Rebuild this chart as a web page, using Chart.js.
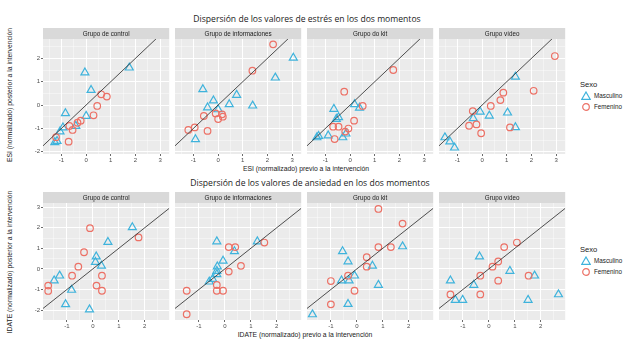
<!DOCTYPE html>
<html>
<head>
<meta charset="utf-8">
<script src="https://cdn.jsdelivr.net/npm/chart.js@4.4.1/dist/chart.umd.min.js"></script>
<style>
  body { margin: 0; background: #fff; width: 640px; height: 343px; position: relative; overflow: hidden; font-family: "Liberation Sans", Arial, sans-serif; }
  canvas { position: absolute; }
  .t { position: absolute; white-space: nowrap; transform: translate(-50%, -50%); color: #1a1a1a; }
  .main { font-family: "Open Sans", sans-serif; font-size: 8.6px; color: #222; }
  .axt { font-size: 6.8px; }
  .rot { transform: translate(-50%, -50%) rotate(-90deg); }
  .leg { position: absolute; white-space: nowrap; font-size: 6.3px; color: #1a1a1a; }
  .legt { position: absolute; font-size: 7.6px; color: #1a1a1a; }
  svg { position: absolute; }
</style>
</head>
<body>

<div class="t main" style="left:307px;top:19px">Dispersión de los valores de estrés en los dos momentos</div>
<div class="t main" style="left:310px;top:183px">Dispersión de los valores de ansiedad en los dos momentos</div>

<div class="t axt" style="left:306px;top:168px">ESI (normalizado) previo a la intervención</div>
<div class="t axt" style="left:305px;top:334px">IDATE (normalizado) previo a la intervención</div>
<div class="t axt rot" style="left:9px;top:95px">ESI (normalizado) posterior a la intervención</div>
<div class="t axt rot" style="left:9px;top:262px">IDATE (normalizado) posterior a la intervención</div>

<div id="legends"></div>

<script>
const groups = ["Grupo de control", "Grupo de informaciones", "Grupo do kit", "Grupo vídeo"];
const sexes = ["Masculino", "Femenino"];

const esiTicksX = [-1, 0, 1, 2, 3];
const esiTicksY = [-2, -1, 0, 1, 2];
const idateTicksX = [-1, 0, 1, 2];
const idateTicksY = [-2, -1, 0, 1, 2, 3];

// ESI: pre / post per group (Masculino)
const esiPreMasc = [
  [1.75, -0.05, 0.2, -0.84, 0, -0.42, -0.94, -1.06, -1.18, -1.27],
  [3.05, 2.32, -0.62, 0.75, -0.19, 0.45, 1.4, -0.43, 0, -0.92],
  [-0.66, 0.18, 0.38, -0.47, -0.56, -0.17, -0.3, -0.89, -1.28, -1.35],
  [1.35, -0.08, 0.29, 1.03, 1.35, -0.36, -1.51, -1.31, -1.12]
];
const esiPostMasc = [
  [1.6, 1.39, 0.64, -0.36, -0.47, -0.9, -0.97, -1.14, -1.55, -1.6],
  [2.02, 1.17, 0.67, 0.43, 0.19, 0.03, -0.03, -0.11, -0.19, -1.47],
  [-0.17, 0.03, -0.12, -0.53, -0.6, -1.23, -1.39, -1.31, -1.33, -1.39],
  [1.21, -0.29, -0.46, -0.33, -0.96, -0.57, -1.39, -1.57, -1.83]
];
// ESI (Femenino)
const esiPreFem = [
  [0.61, 0.84, 0.45, 0.3, -0.22, -0.35, -0.68, -0.55, -0.71, -1.22],
  [2.23, 1.39, -0.58, -0.1, 0.16, 0.19, 0, -0.95, -1.21, -0.43],
  [1.75, -0.24, 0.51, 0.16, -0.69, -0.47, -0.07, -0.2, -0.63],
  [2.95, 2.09, 0.86, 0.74, 0.35, -0.38, -0.23, -0.53, -0.04, 1.13]
];
const esiPostFem = [
  [0.46, 0.36, -0.04, -0.44, -0.67, -0.76, -0.9, -1.07, -1.57, -1.38],
  [2.6, 1.47, -0.47, -0.36, -0.4, -0.5, -0.6, -0.96, -1.07, -1.11],
  [1.5, 0.57, -0.04, -0.67, -0.93, -0.93, -1.01, -1.14, -1.46],
  [2.1, 0.61, 0.53, 0.21, -0.04, -0.26, -0.83, -0.89, -1.21, -0.96]
];

// IDATE (Masculino)
const idatePreMasc = [
  [1.52, 0.58, 0.13, 0.1, 0.33, -1.28, -1.49, -0.82, -1.05, -0.13],
  [-0.31, 1.25, 0.37, -0.07, -0.29, -0.31, -0.31, -0.47, -0.6],
  [1.76, -0.55, -0.34, 0.6, -0.09, -0.3, -0.59, 0.83, -0.34, -1.71],
  [-0.36, 0.81, 1.76, -1.48, -0.58, -1.29, -1.01, 1.51, 2.68]
];
const idatePostMasc = [
  [2.02, 1.3, 0.6, 0.33, 0.15, -0.33, -0.57, -1.02, -1.72, -1.97],
  [1.33, 1.33, 0.85, 0.39, 0.11, -0.1, -0.26, -0.49, -0.62],
  [1.09, 0.85, 0.36, 0.15, -0.33, -0.57, -0.57, -0.78, -1.71, -2.21],
  [0.6, -0.1, -0.33, -0.57, -0.78, -1.51, -1.51, -1.51, -1.24]
];
// IDATE (Femenino)
const idatePreFem = [
  [-0.11, 1.76, -0.34, -0.56, -0.8, 0.35, 0.14, 0.35, -1.72, -1.72],
  [0.15, 0.4, 1.52, 0.62, 0.15, -0.31, -0.31, -0.07, -1.47, -1.47],
  [0.83, 1.76, 0.83, 1.31, 0.38, 0.38, -0.34, -1.0, -0.09, -1.0],
  [1.08, 0.59, 0.14, 0.36, -0.33, 1.53, 0.36, -1.48, -0.33]
];
const idatePostFem = [
  [1.98, 1.53, 0.81, 0.11, -0.33, -0.33, -0.81, -1.06, -0.81, -1.07],
  [1.06, 1.06, 1.28, 0.15, -0.13, -0.78, -1.06, -1.06, -1.06, -2.2],
  [2.91, 2.2, 1.06, 1.06, 0.57, 0.11, -0.33, -0.59, -1.06, -1.72],
  [1.28, 1.06, 0.11, 0.36, -0.33, -0.33, -0.57, -1.24, -1.24]
];

const BLUE = "#3fb3dc";
const RED = "#ec7166";

const cols = [43, 175, 307, 439];
const PW = 129, STRIP = 11, YAX = 22, XAX = 14, RPAD = 3;

const rows = [
  { top: 28, plotH: 115, xMin: -1.75, xMax: 3.37, yMin: -2.1, yMax: 2.83,
    preM: esiPreMasc, postM: esiPostMasc, preF: esiPreFem, postF: esiPostFem,
    ticksX: esiTicksX, ticksY: esiTicksY, legendTop: 85 },
  { top: 192, plotH: 117, xMin: -1.92, xMax: 2.94, yMin: -2.48, yMax: 3.2,
    preM: idatePreMasc, postM: idatePostMasc, preF: idatePreFem, postF: idatePostFem,
    ticksX: idateTicksX, ticksY: idateTicksY, legendTop: 250 }
];

const isWhole = v => Math.abs(v - Math.round(v)) < 1e-6;
const isHalf = v => Math.abs(v * 2 - Math.round(v * 2)) < 1e-6;
const pts = (xs, ys) => xs.map((x, i) => ({ x: x, y: ys[i] }));

const panelPlugin = {
  id: "panel",
  beforeDraw(chart, args, opts) {
    const { ctx, chartArea: a } = chart;
    ctx.save();
    ctx.fillStyle = "#ebebeb";
    ctx.fillRect(a.left, a.top, a.right - a.left, a.bottom - a.top);
    ctx.fillStyle = "#d9d9d9";
    ctx.fillRect(a.left, a.top - STRIP, a.right - a.left, STRIP);
    ctx.fillStyle = "#1a1a1a";
    ctx.font = '6.3px "Liberation Sans"';
    ctx.textAlign = "center";
    ctx.textBaseline = "middle";
    ctx.fillText(opts.label, (a.left + a.right) / 2, a.top - STRIP / 2 + 0.5);
    ctx.restore();
  }
};

function axis(min, max, labels, showLabels) {
  return {
    type: "linear",
    min: min,
    max: max,
    border: { display: false },
    afterBuildTicks: s => { s.ticks = s.ticks.filter(t => isHalf(t.value)); },
    grid: {
      color: c => (c.tick && isWhole(c.tick.value) ? "#ffffff" : "rgba(255,255,255,0.8)"),
      lineWidth: c => (c.tick && isWhole(c.tick.value) ? 1 : 0.5),
      tickColor: c => (c.tick && isWhole(c.tick.value) ? "#444" : "rgba(0,0,0,0)"),
      tickLength: 2,
      tickWidth: 0.8,
      drawTicks: showLabels
    },
    ticks: {
      display: showLabels,
      stepSize: 0.5,
      includeBounds: false,
      maxTicksLimit: 50,
      autoSkip: false,
      maxRotation: 0,
      padding: 1,
      color: "#4d4d4d",
      font: { size: 6, family: "Liberation Sans" },
      callback: v => (isWhole(v) && labels.includes(Math.round(v)) ? String(Math.round(v)) : "")
    }
  };
}

rows.forEach(r => {
  groups.forEach((g, gi) => {
    const cv = document.createElement("canvas");
    const W = YAX + PW + RPAD, H = STRIP + r.plotH + XAX;
    cv.width = W; cv.height = H;
    cv.style.left = (cols[gi] - YAX) + "px";
    cv.style.top = r.top + "px";
    cv.style.width = W + "px"; cv.style.height = H + "px";
    document.body.appendChild(cv);

    const xs = axis(r.xMin, r.xMax, r.ticksX, true);
    xs.afterFit = s => { s.height = XAX; };
    const ys = axis(r.yMin, r.yMax, r.ticksY, gi === 0);
    ys.afterFit = s => { s.width = YAX; };

    new Chart(cv.getContext("2d"), {
      type: "scatter",
      data: {
        datasets: [
          { type: "line", data: [{ x: r.xMin, y: r.xMin }, { x: r.xMax, y: r.xMax }],
            borderColor: "rgba(50,50,50,0.85)", borderWidth: 1, pointRadius: 0, fill: false, order: 0 },
          { label: sexes[1], data: pts(r.preF[gi], r.postF[gi]), pointStyle: "circle",
            pointRadius: 3.3, borderWidth: 1.2, borderColor: RED, backgroundColor: "rgba(0,0,0,0)", order: 1 },
          { label: sexes[0], data: pts(r.preM[gi], r.postM[gi]), pointStyle: "triangle",
            pointRadius: 4.6, borderWidth: 1.2, borderColor: BLUE, backgroundColor: "rgba(0,0,0,0)", order: 2 }
        ]
      },
      options: {
        responsive: false,
        animation: false,
        devicePixelRatio: 1,
        layout: { padding: { top: STRIP, right: RPAD, left: 0, bottom: 0 } },
        plugins: { legend: { display: false }, tooltip: { enabled: false }, panel: { label: g } },
        scales: { x: xs, y: ys }
      },
      plugins: [panelPlugin]
    });
  });

  // legend
  const lg = document.getElementById("legends");
  const t = r.legendTop;
  lg.insertAdjacentHTML("beforeend",
    `<div class="legt" style="left:580px;top:${t - 5}px">Sexo</div>
     <svg style="left:581px;top:${t + 6}px" width="10" height="10"><polygon points="5,1 9.2,8.3 0.8,8.3" fill="none" stroke="${BLUE}" stroke-width="1.2"/></svg>
     <div class="leg" style="left:594px;top:${t + 7}px">${sexes[0]}</div>
     <svg style="left:581px;top:${t + 17}px" width="10" height="10"><circle cx="5" cy="5" r="3.3" fill="none" stroke="${RED}" stroke-width="1.2"/></svg>
     <div class="leg" style="left:594px;top:${t + 18}px">${sexes[1]}</div>`);
});
</script>
</body>
</html>
